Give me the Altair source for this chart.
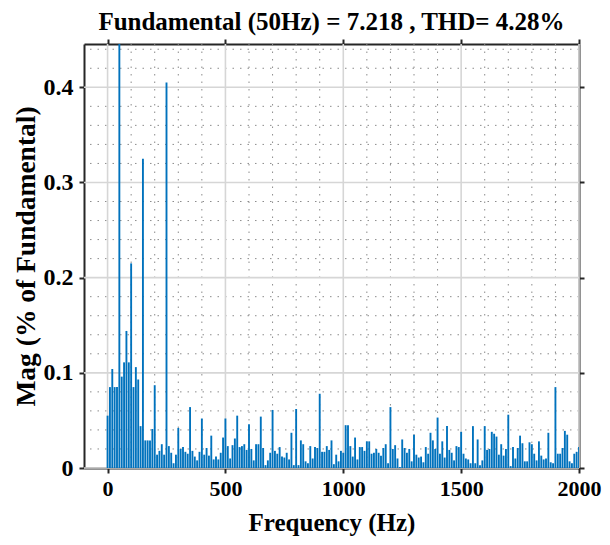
import altair as alt
import pandas as pd

# Harmonic spectrum: frequency (Hz) and magnitude (% of fundamental); fundamental (50 Hz) is clipped
freqs = list(range(0, 2001, 10))
mags = [
    0.055, 0.085, 0.104, 0.085, 0.085, 100.0, 0.096, 0.111, 0.144, 0.111,   # 0-90
    0.215, 0.085, 0.106, 0.093, 0.044, 0.325, 0.029, 0.029, 0.029, 0.041,   # 100-190
    0.087, 0.014, 0.018, 0.025, 0.014, 0.405, 0.023, 0.016, 0.005, 0.014,   # 200-290
    0.042, 0.020, 0.022, 0.017, 0.015, 0.064, 0.018, 0.012, 0.008, 0.017,   # 300-390
    0.052, 0.014, 0.021, 0.013, 0.034, 0.009, 0.012, 0.009, 0.016, 0.032,   # 400-490
    0.052, 0.023, 0.010, 0.024, 0.031, 0.055, 0.022, 0.023, 0.025, 0.019,   # 500-590
    0.046, 0.020, 0.008, 0.025, 0.025, 0.054, 0.021, 0.003, 0.008, 0.016,   # 600-690
    0.061, 0.018, 0.015, 0.022, 0.012, 0.011, 0.016, 0.009, 0.037, 0.003,   # 700-790
    0.062, 0.003, 0.029, 0.025, 0.007, 0.005, 0.023, 0.010, 0.022, 0.021,   # 800-890
    0.078, 0.017, 0.017, 0.023, 0.019, 0.029, 0.004, 0.014, 0.007, 0.018,   # 900-990
    0.016, 0.045, 0.045, 0.023, 0.012, 0.032, 0.009, 0.022, 0.022, 0.018,   # 1000-1090
    0.028, 0.028, 0.015, 0.016, 0.020, 0.016, 0.013, 0.021, 0.025, 0.005,   # 1100-1190
    0.064, 0.020, 0.024, 0.010, 0.001, 0.030, 0.021, 0.016, 0.020, 0.007,   # 1200-1290
    0.035, 0.014, 0.011, 0.012, 0.006, 0.022, 0.015, 0.037, 0.029, 0.020,   # 1300-1390
    0.053, 0.015, 0.028, 0.011, 0.044, 0.019, 0.016, 0.008, 0.023, 0.022,   # 1400-1490
    0.038, 0.015, 0.010, 0.009, 0.005, 0.044, 0.005, 0.030, 0.003, 0.008,   # 1500-1590
    0.044, 0.019, 0.020, 0.038, 0.036, 0.033, 0.014, 0.025, 0.013, 0.020,   # 1600-1690
    0.056, 0.002, 0.022, 0.010, 0.021, 0.034, 0.026, 0.007, 0.007, 0.027,   # 1700-1790
    0.025, 0.015, 0.008, 0.028, 0.013, 0.009, 0.010, 0.037, 0.006, 0.005,   # 1800-1890
    0.085, 0.015, 0.015, 0.021, 0.039, 0.035, 0.007, 0.005, 0.015, 0.017,   # 1900-1990
    0.022,                                                                  # 2000
]

x_major = [0, 500, 1000, 1500, 2000]
y_major = [0, 0.1, 0.2, 0.3, 0.4]
x_minor = [v for v in range(0, 2001, 100) if v % 500 != 0]
y_minor = [round(0.02 * i, 2) for i in range(1, 23) if i % 5 != 0]

XDOM = [-100, 2000]
YDOM = [0, 0.4455]
FONT = "Liberation Serif"
DARK = "#262626"

df = pd.DataFrame({"f": freqs, "mag": mags})

xs = alt.Scale(domain=XDOM, nice=False, zero=False)
ys = alt.Scale(domain=YDOM, nice=False, zero=False)

minor_x = alt.Chart(pd.DataFrame({"v": x_minor})).mark_rule(
    color="#8c8c8c", strokeWidth=1, strokeDash=[1.5, 6]
).encode(x=alt.X("v:Q", scale=xs, axis=None))

minor_y = alt.Chart(pd.DataFrame({"v": y_minor})).mark_rule(
    color="#8c8c8c", strokeWidth=1, strokeDash=[1.5, 6]
).encode(y=alt.Y("v:Q", scale=ys, axis=None))

major_x = alt.Chart(pd.DataFrame({"v": x_major})).mark_rule(
    color="#d6d6d6", strokeWidth=1.6
).encode(x=alt.X("v:Q", scale=xs, axis=None))

major_y = alt.Chart(pd.DataFrame({"v": y_major})).mark_rule(
    color="#d6d6d6", strokeWidth=1.6
).encode(y=alt.Y("v:Q", scale=ys, axis=None))

axis_common = dict(
    grid=False,
    domainColor=DARK,
    domainWidth=2,
    tickColor=DARK,
    tickWidth=2,
    tickSize=5,
    labelFont=FONT,
    labelFontWeight="bold",
    labelColor="#000000",
    labelFlush=False,
    labelOverlap=False,
    titleFont=FONT,
    titleFontWeight="bold",
    titleColor="#000000",
)

bars = alt.Chart(df).transform_calculate(
    lo="datum.f - 4", hi="datum.f + 4"
).mark_bar(color="#0072BD", clip=True).encode(
    x=alt.X("lo:Q", scale=xs, axis=None),
    x2="hi:Q",
    y=alt.Y("mag:Q", scale=ys, axis=None),
    y2=alt.datum(0),
)

axes_bl = alt.Chart(pd.DataFrame({"v": [0]})).mark_point(opacity=0).encode(
    x=alt.X(
        "v:Q",
        scale=xs,
        title="Frequency (Hz)",
        axis=alt.Axis(
            orient="bottom", values=x_major, format="d", labelPadding=5,
            labelFontSize=22, titleFontSize=25, titlePadding=11, **axis_common
        ),
    ),
    y=alt.Y(
        "v:Q",
        scale=ys,
        title="Mag (% of Fundamental)",
        axis=alt.Axis(
            orient="left", values=y_major, format=".1~f", labelPadding=6,
            labelFontSize=24, titleFontSize=27.5, titlePadding=3, **axis_common
        ),
    ),
)

axes_tr = alt.Chart(pd.DataFrame({"v": [0]})).mark_point(opacity=0).encode(
    x=alt.X("v:Q", scale=xs, axis=alt.Axis(orient="top", values=x_major, labels=False, title=None, **axis_common)),
    y=alt.Y("v:Q", scale=ys, axis=alt.Axis(orient="right", values=y_major, labels=False, title=None, **axis_common)),
)

inner = alt.layer(minor_x, minor_y, major_x, major_y, bars)

chart = alt.layer(inner, axes_bl, axes_tr).resolve_scale(
    x="independent", y="independent"
).properties(
    width=495,
    height=424,
    padding={"left": 84, "top": 44, "right": 31, "bottom": 77},
    autosize=alt.AutoSizeParams(type="none"),
    title=alt.TitleParams(
        "Fundamental (50Hz) = 7.218 , THD= 4.28%",
        font=FONT, fontSize=25, fontWeight="bold", color="#000000", offset=3,
    ),
).configure_view(stroke=None)

chart.save("out.html", embed_options={"renderer": "svg", "actions": False})
